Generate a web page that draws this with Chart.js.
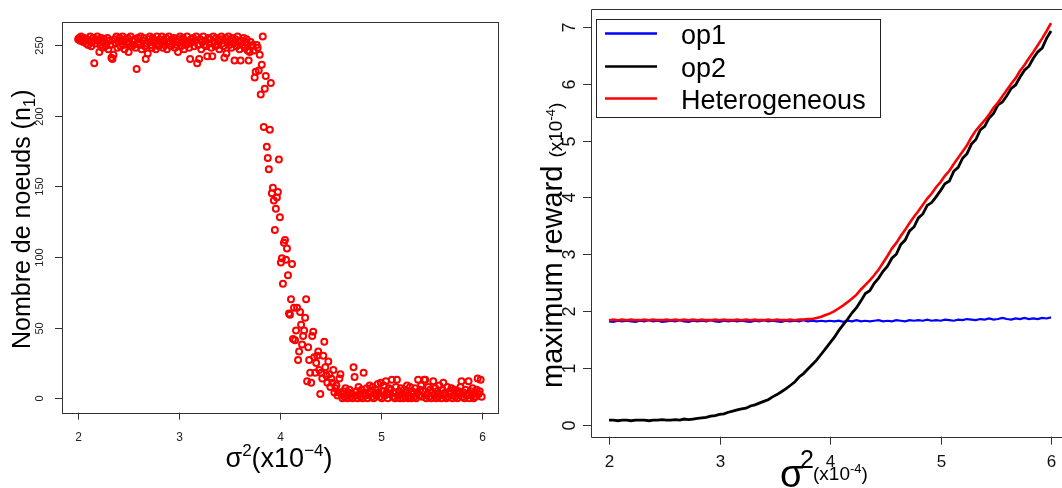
<!DOCTYPE html>
<html>
<head>
<meta charset="utf-8">
<script src="https://cdn.jsdelivr.net/npm/chart.js@4.4.1/dist/chart.umd.min.js"></script>
<style>
    html, body { margin: 0; padding: 0; background: #fff; }
    #wrap { position: relative; width: 1062px; height: 488px; overflow: hidden; }
    #leftChart { position: absolute; left: 0; top: 0; }
    #rightChart { position: absolute; left: 530px; top: 0; }
</style>
</head>
<body>
<div id="wrap">
    <canvas id="leftChart" width="530" height="488"></canvas>
    <canvas id="rightChart" width="532" height="488"></canvas>
</div>
<script>
// ---- Left panel data: number of nodes n1 for sigma^2 = 2.00 .. 6.00 (step 0.01)
const leftSigmaStart = 2;
const leftSigmaStep = 0.01;
const nodesN1 = [
    254,255,253,256,254,252,255,253,251,254,
    250,253,256,249,252,255,237,251,254,256,
    253,245,250,255,248,252,254,249,251,255,
    247,253,250,241,240,243,254,251,256,248,
    252,255,249,253,256,250,247,254,252,255,
    245,251,256,249,253,250,254,248,233,255,
    252,250,256,247,253,255,249,240,251,244,
    254,256,250,248,255,252,253,247,256,251,
    249,254,252,256,248,253,250,255,247,252,
    256,251,249,254,252,255,248,253,250,245,
    254,256,249,252,255,247,253,250,256,251,
    248,240,254,252,255,249,253,256,237,250,
    240,254,247,252,256,250,253,249,242,255,
    251,254,248,242,256,252,249,255,250,253,
    247,254,256,251,249,241,255,244,252,256,
    250,253,248,255,251,239,254,249,256,252,
    247,239,253,250,255,248,252,254,246,239,
    245,252,249,250,246,227,231,250,248,232,
    243,215,236,256,192,219,228,178,170,162,
    190,223,145,149,140,119,134,142,146,169,
    128,96,99,81,110,112,98,106,87,60,
    59,70,95,42,64,41,48,64,27,33,
    61,52,38,44,48,57,70,12,36,27,
    18,11,44,47,29,18,25,30,33,20,
    3,18,14,30,40,22,16,11,26,17,
    8,14,11,20,4,7,9,2,4,14,
    17,3,0,5,1,7,2,0,4,6,
    1,3,0,22,15,2,5,0,8,3,
    1,6,0,18,4,2,7,0,3,9,
    5,1,8,0,3,6,2,10,4,1,
    11,0,5,9,2,12,4,0,7,3,
    6,13,1,4,0,8,13,2,5,0,
    7,3,0,6,1,4,9,0,2,8,
    0,5,3,1,7,0,4,13,2,6,
    9,1,5,13,13,0,3,8,1,6,
    0,4,12,2,7,0,5,1,9,3,
    0,6,11,2,4,0,8,1,3,5,
    7,0,2,6,1,4,0,5,3,8,
    12,1,4,0,6,2,3,12,0,5,
    2,7,0,4,1,6,14,3,5,13,
    1
];
const leftXTicks = [2, 3, 4, 5, 6];
const leftYTicks = [0, 50, 100, 150, 200, 250];

// ---- Right panel data: maximum reward (x1e-4) for sigma^2 = 2.00 .. 6.00 (step 0.04)
const rightSigmaStart = 2;
const rightSigmaStep = 0.04;
const rewardOp1 = [
    1.82,1.81,1.83,1.82,1.83,1.82,1.81,1.83,1.82,1.84,
    1.82,1.83,1.81,1.82,1.83,1.82,1.84,1.82,1.81,1.83,
    1.82,1.83,1.82,1.84,1.82,1.81,1.83,1.82,1.83,1.82,
    1.83,1.82,1.81,1.83,1.82,1.84,1.82,1.83,1.82,1.81,
    1.83,1.82,1.83,1.82,1.84,1.82,1.83,1.82,1.83,1.82,
    1.83,1.82,1.83,1.81,1.83,1.82,1.84,1.82,1.83,1.82,
    1.83,1.84,1.82,1.83,1.82,1.84,1.83,1.82,1.84,1.83,
    1.84,1.83,1.85,1.83,1.84,1.83,1.85,1.84,1.83,1.85,
    1.84,1.86,1.85,1.84,1.86,1.85,1.87,1.85,1.86,1.88,
    1.86,1.85,1.87,1.86,1.88,1.86,1.87,1.86,1.88,1.87,
    1.89
];
const rewardOp2 = [
    0.08,0.08,0.07,0.08,0.08,0.07,0.08,0.08,0.08,0.07,
    0.08,0.08,0.09,0.08,0.08,0.09,0.08,0.10,0.09,0.10,
    0.11,0.12,0.13,0.15,0.16,0.18,0.19,0.22,0.24,0.26,
    0.28,0.29,0.33,0.35,0.38,0.41,0.44,0.49,0.53,0.58,
    0.63,0.69,0.75,0.84,0.90,0.98,1.06,1.14,1.24,1.34,
    1.44,1.54,1.66,1.76,1.86,1.97,2.06,2.18,2.31,2.36,
    2.49,2.58,2.70,2.79,2.93,3.00,3.17,3.25,3.41,3.48,
    3.64,3.71,3.86,3.91,4.01,4.12,4.24,4.29,4.46,4.53,
    4.69,4.77,4.94,5.02,5.19,5.25,5.40,5.48,5.63,5.68,
    5.79,5.92,5.98,6.12,6.24,6.31,6.45,6.56,6.63,6.80,
    6.93
];
const rewardHetero = [
    1.84,1.85,1.84,1.85,1.84,1.85,1.84,1.84,1.85,1.84,
    1.85,1.84,1.84,1.85,1.84,1.85,1.84,1.85,1.84,1.85,
    1.84,1.85,1.84,1.84,1.85,1.84,1.85,1.84,1.84,1.85,
    1.84,1.85,1.84,1.85,1.84,1.84,1.85,1.84,1.85,1.84,
    1.84,1.85,1.84,1.85,1.85,1.86,1.86,1.88,1.90,1.93,
    1.96,2.00,2.05,2.10,2.16,2.22,2.29,2.38,2.46,2.54,
    2.63,2.73,2.85,2.97,3.10,3.20,3.32,3.43,3.55,3.66,
    3.76,3.87,3.98,4.07,4.18,4.27,4.38,4.47,4.59,4.70,
    4.81,4.92,5.06,5.18,5.27,5.36,5.46,5.58,5.67,5.78,
    5.89,6.00,6.10,6.23,6.33,6.45,6.56,6.68,6.80,6.93,
    7.07
];
const rightXTicks = [2, 3, 4, 5, 6];
const rightYTicks = [0, 1, 2, 3, 4, 5, 6, 7];
const legendNames = ["op1", "op2", "Heterogeneous"];
const legendColors = ["#0000ff", "#000000", "#ff0000"];

const FONT = '"Liberation Sans", Arial, Helvetica, sans-serif';

// draws a run of text pieces (different sizes / raised or lowered) one after another
function drawRich(ctx, pieces, x, y, align) {
    let total = 0;
    pieces.forEach(p => {
        ctx.font = p.size + "px " + FONT;
        p.w = ctx.measureText(p.text).width;
        total += p.w;
    });
    let cx = align === "center" ? x - total / 2 : x;
    ctx.textAlign = "left";
    ctx.textBaseline = "alphabetic";
    pieces.forEach(p => {
        ctx.font = p.size + "px " + FONT;
        ctx.fillText(p.text, cx, y + (p.dy || 0));
        cx += p.w;
    });
}

function crisp(v) { return Math.round(v) + 0.5; }

//Left panel: R-like box, ticks, labels and titles
const leftAxesPlugin = {
    id: "leftAxes",
    afterDraw(chart) {
        const ctx = chart.ctx;
        const area = chart.chartArea;
        const xs = chart.scales.x, ys = chart.scales.y;
        ctx.save();
        ctx.strokeStyle = "#333";
        ctx.lineWidth = 1;
        ctx.strokeRect(crisp(area.left), crisp(area.top), Math.round(area.right - area.left), Math.round(area.bottom - area.top));

        ctx.fillStyle = "#222";
        leftXTicks.forEach(t => {
            const px = crisp(xs.getPixelForValue(t));
            ctx.beginPath();
            ctx.moveTo(px, area.bottom);
            ctx.lineTo(px, area.bottom + 7);
            ctx.stroke();
            ctx.font = "12px " + FONT;
            ctx.textAlign = "center";
            ctx.textBaseline = "alphabetic";
            ctx.fillText(String(t), px, 441);
        });
        leftYTicks.forEach(t => {
            const py = crisp(ys.getPixelForValue(t));
            ctx.beginPath();
            ctx.moveTo(area.left, py);
            ctx.lineTo(area.left - 7, py);
            ctx.stroke();
            ctx.save();
            ctx.translate(43, py);
            ctx.rotate(-Math.PI / 2);
            ctx.font = "11px " + FONT;
            ctx.textAlign = "center";
            ctx.textBaseline = "alphabetic";
            ctx.fillText(String(t), 0, 0);
            ctx.restore();
        });

        ctx.fillStyle = "#000";
        drawRich(ctx, [
            {text: "σ", size: 27},
            {text: "2", size: 17, dy: -11},
            {text: "(x10", size: 27},
            {text: "−4", size: 17, dy: -11},
            {text: ")", size: 27}
        ], 279, 467, "center");

        ctx.save();
        ctx.translate(30, 349);
        ctx.rotate(-Math.PI / 2);
        drawRich(ctx, [
            {text: "Nombre de noeuds (n", size: 25},
            {text: "1", size: 17, dy: 5},
            {text: ")", size: 25}
        ], 0, 0, "left");
        ctx.restore();
        ctx.restore();
    }
};

//Right panel: box, ticks, labels, titles and legend
const rightAxesPlugin = {
    id: "rightAxes",
    afterDraw(chart) {
        const ctx = chart.ctx;
        const area = chart.chartArea;
        const xs = chart.scales.x, ys = chart.scales.y;
        ctx.save();
        ctx.strokeStyle = "#333";
        ctx.lineWidth = 1;
        ctx.beginPath();
        ctx.moveTo(chart.width, crisp(area.top));
        ctx.lineTo(crisp(area.left), crisp(area.top));
        ctx.lineTo(crisp(area.left), crisp(area.bottom));
        ctx.lineTo(chart.width, crisp(area.bottom));
        ctx.stroke();

        ctx.fillStyle = "#111";
        rightXTicks.forEach(t => {
            const px = crisp(xs.getPixelForValue(t));
            ctx.beginPath();
            ctx.moveTo(px, area.bottom);
            ctx.lineTo(px, area.bottom + 8);
            ctx.stroke();
            ctx.font = "17px " + FONT;
            ctx.textAlign = "center";
            ctx.textBaseline = "alphabetic";
            ctx.fillText(String(t), px, 467);
        });
        rightYTicks.forEach(t => {
            const py = crisp(ys.getPixelForValue(t));
            ctx.beginPath();
            ctx.moveTo(area.left, py);
            ctx.lineTo(area.left - 8, py);
            ctx.stroke();
            ctx.save();
            ctx.translate(45, py);
            ctx.rotate(-Math.PI / 2);
            ctx.font = "18px " + FONT;
            ctx.textAlign = "center";
            ctx.textBaseline = "alphabetic";
            ctx.fillText(String(t), 0, 0);
            ctx.restore();
        });

        // legend
        ctx.strokeStyle = "#222";
        ctx.strokeRect(66.5, 19.5, 284, 98);
        const rowsY = [33.5, 66.5, 98.5];
        legendNames.forEach((name, i) => {
            ctx.strokeStyle = legendColors[i];
            ctx.lineWidth = 2.5;
            ctx.beginPath();
            ctx.moveTo(75, rowsY[i]);
            ctx.lineTo(127, rowsY[i]);
            ctx.stroke();
            ctx.fillStyle = "#000";
            ctx.font = "27px " + FONT;
            ctx.textAlign = "left";
            ctx.textBaseline = "alphabetic";
            ctx.fillText(name, 151, rowsY[i] + 10);
        });

        // axis titles
        ctx.fillStyle = "#000";
        drawRich(ctx, [{text: "σ", size: 38}], 250, 487, "left");
        drawRich(ctx, [{text: "2", size: 25}], 270, 468, "left");
        drawRich(ctx, [
            {text: "(x10", size: 19},
            {text: "-4", size: 13, dy: -7},
            {text: ")", size: 19}
        ], 283, 480, "left");

        ctx.save();
        ctx.translate(31.5, 388);
        ctx.rotate(-Math.PI / 2);
        drawRich(ctx, [
            {text: "maximum reward ", size: 29},
            {text: "(x10", size: 19},
            {text: "-4", size: 13, dy: -7},
            {text: ")", size: 19}
        ], 0, 0, "left");
        ctx.restore();
        ctx.restore();
    }
};

//Left chart: scatter of n1
const leftPoints = nodesN1.map((v, i) => ({x: Math.round((leftSigmaStart + i * leftSigmaStep) * 100) / 100, y: v}));
new Chart(document.getElementById("leftChart"), {
    type: "scatter",
    data: {
        datasets: [{
            data: leftPoints,
            pointStyle: "circle",
            pointRadius: 3,
            pointBorderWidth: 2,
            borderColor: "#ff0000",
            backgroundColor: "rgba(0,0,0,0)",
            pointBackgroundColor: "rgba(0,0,0,0)",
            pointBorderColor: "#ff0000"
        }]
    },
    options: {
        responsive: false,
        animation: false,
        devicePixelRatio: 1,
        layout: {padding: {left: 62, top: 22, right: 32.2, bottom: 75.3}},
        plugins: {legend: {display: false}, tooltip: {enabled: false}},
        scales: {
            x: {type: "linear", min: 1.84, max: 6.16, display: false},
            y: {type: "linear", min: -10.24, max: 266.24, display: false}
        }
    },
    plugins: [leftAxesPlugin]
});

//Right chart: three reward curves
const toXY = (arr) => arr.map((v, i) => ({x: Math.round((rightSigmaStart + i * rightSigmaStep) * 100) / 100, y: v}));
new Chart(document.getElementById("rightChart"), {
    type: "line",
    data: {
        datasets: [
            {label: legendNames[2], data: toXY(rewardHetero), borderColor: legendColors[2], borderWidth: 2.6, pointRadius: 0, tension: 0},
            {label: legendNames[1], data: toXY(rewardOp2), borderColor: legendColors[1], borderWidth: 2.8, pointRadius: 0, tension: 0},
            {label: legendNames[0], data: toXY(rewardOp1), borderColor: legendColors[0], borderWidth: 2.2, pointRadius: 0, tension: 0}
        ]
    },
    options: {
        responsive: false,
        animation: false,
        devicePixelRatio: 1,
        layout: {padding: {left: 61, top: 9, right: 0, bottom: 51.3}},
        plugins: {legend: {display: false}, tooltip: {enabled: false}},
        scales: {
            x: {type: "linear", min: 1.837, max: 6.0995, display: false},
            y: {type: "linear", min: -0.211, max: 7.317, display: false}
        }
    },
    plugins: [rightAxesPlugin]
});
</script>
</body>
</html>
